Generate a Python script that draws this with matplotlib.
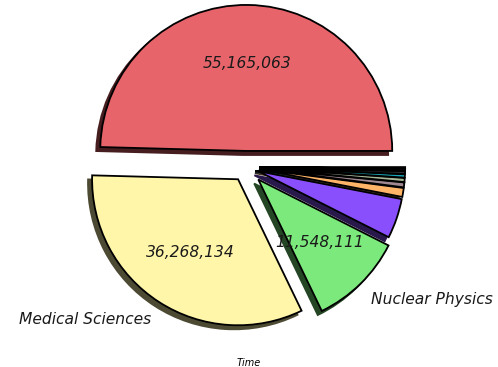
import matplotlib
matplotlib.use("Agg")
import matplotlib.pyplot as plt

# slice values
fields = ["", "Medical Sciences", "Nuclear Physics", "", "", "", "", "", "", "", ""]
counts = [55165063, 36268134, 11548111, 4900000, 1100000, 600000, 500000,
          400000, 350000, 250000, 200000]
colors = ["#e8646b", "#fff6a9", "#7ce97c", "#8a4ffc", "#ffb468", "#a08890",
          "#a8b898", "#1aa8b8", "#303030", "#202020", "#101010"]
explode = [0.11, 0.1, 0.12, 0.09, 0.09, 0.09, 0.09, 0.09, 0.09, 0.09, 0.09]

total = sum(counts)


def show_count(pct):
    if pct < 5:
        return ""
    # pick the exact count back instead of rounding the percentage
    value = min(counts, key=lambda c: abs(c / total * 100 - pct))
    return f"{value:,}"


fig = plt.figure(figsize=(4.98, 3.67), dpi=100)
ax = fig.add_axes([0, 0.04, 1, 0.96])

wedges, texts, autotexts = ax.pie(
    counts, labels=fields, colors=colors, explode=explode,
    autopct=show_count, startangle=0,
    shadow={"ox": -0.02, "oy": -0.02, "alpha": 1.0},
    wedgeprops={"edgecolor": "black", "linewidth": 1.3},
    textprops={"fontsize": 11.2, "fontstyle": "italic", "color": "#1a1a1a"})

# outer labels sit a touch lower in the original
for t in texts:
    x, y = t.get_position()
    t.set_position((x, y - 0.035))

ax.set_xlabel("Time", fontsize=7, fontstyle="italic")

# keep the circle round: 146 px per data unit, centre at (246, 167) px
scale = 146
ax_h = 367 * 0.96
ax.set_aspect("auto")
ax.set_xlim(-246 / scale, (498 - 246) / scale)
ax.set_ylim(-(ax_h - 167) / scale, 167 / scale)

fig.savefig("out.png", dpi=100)
